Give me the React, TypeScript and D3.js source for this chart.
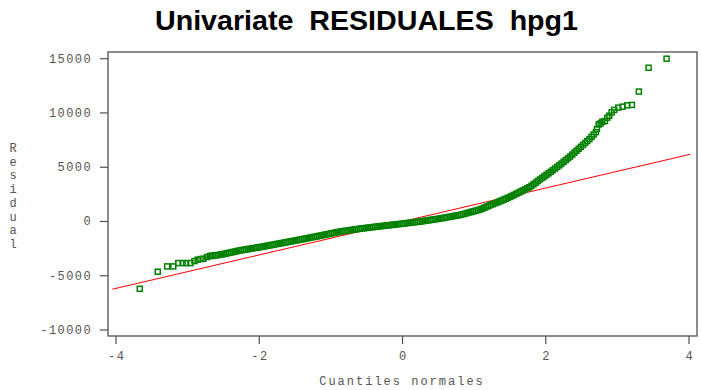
import React from "react";
import * as d3 from "d3";

const W = 701;
const H = 390;

const title = "Univariate  RESIDUALES  hpg1";
const xTicks = [-4, -2, 0, 2, 4];
const yTicks = [-10000, -5000, 0, 5000, 10000, 15000];
const xLabel = "Cuantiles normales";
const yLabel = "Residual";

// reference line (mean 0, sd ~1541)
const refIntercept = 0;
const refSlope = 1541;
const refRange = [-4.05, 4.02];

// lower tail [normal quantile, residual]
const lowTail: [number, number][] = [
  [-3.668, -6204], [-3.417, -4630], [-3.286, -4139], [-3.2, -4139],
  [-3.13, -3833], [-3.07, -3833], [-3.02, -3833], [-2.96, -3833],
  [-2.905, -3648], [-2.86, -3519], [-2.82, -3463], [-2.78, -3435],
  [-2.73, -3278], [-2.69, -3185],
];

// dense body of the plot
const body: [number, number][] = [
  [-2.67, -3173], [-2.64, -3146], [-2.61, -3120], [-2.58, -3093], [-2.55, -3067],
  [-2.52, -3030], [-2.49, -2987], [-2.46, -2944], [-2.43, -2902], [-2.4, -2859],
  [-2.37, -2816], [-2.34, -2773], [-2.31, -2730], [-2.28, -2687], [-2.25, -2647],
  [-2.22, -2614], [-2.19, -2582], [-2.16, -2549], [-2.13, -2516], [-2.1, -2483],
  [-2.07, -2450], [-2.04, -2418], [-2.01, -2385], [-1.98, -2352], [-1.95, -2315],
  [-1.92, -2278], [-1.89, -2241], [-1.86, -2204], [-1.83, -2167], [-1.8, -2130],
  [-1.77, -2093], [-1.74, -2056], [-1.71, -2019], [-1.68, -1982], [-1.65, -1945],
  [-1.62, -1908], [-1.59, -1872], [-1.56, -1835], [-1.53, -1798], [-1.5, -1761],
  [-1.47, -1725], [-1.44, -1688], [-1.41, -1650], [-1.38, -1610], [-1.35, -1571],
  [-1.32, -1532], [-1.29, -1492], [-1.26, -1453], [-1.23, -1413], [-1.2, -1374],
  [-1.17, -1334], [-1.14, -1295], [-1.11, -1255], [-1.08, -1215], [-1.05, -1175],
  [-1.02, -1136], [-0.99, -1096], [-0.96, -1056], [-0.93, -1016], [-0.9, -976],
  [-0.87, -937], [-0.84, -906], [-0.81, -877], [-0.78, -848], [-0.75, -819],
  [-0.72, -790], [-0.69, -761], [-0.66, -732], [-0.63, -703], [-0.6, -673],
  [-0.57, -647], [-0.54, -623], [-0.51, -599], [-0.48, -575], [-0.45, -550],
  [-0.42, -526], [-0.39, -502], [-0.36, -478], [-0.33, -454], [-0.3, -430],
  [-0.27, -407], [-0.24, -384], [-0.21, -361], [-0.18, -338], [-0.15, -315],
  [-0.12, -292], [-0.09, -269], [-0.06, -247], [-0.03, -224], [0, -200],
  [0.03, -176], [0.06, -152], [0.09, -128], [0.12, -104], [0.15, -80],
  [0.18, -56], [0.21, -33], [0.24, -9], [0.27, 19], [0.3, 49],
  [0.33, 79], [0.36, 109], [0.39, 138], [0.42, 168], [0.45, 198],
  [0.48, 228], [0.51, 258], [0.54, 290], [0.57, 326], [0.6, 361],
  [0.63, 397], [0.66, 433], [0.69, 468], [0.72, 504], [0.75, 540],
  [0.78, 576], [0.81, 612], [0.84, 666], [0.87, 720], [0.9, 773],
  [0.93, 827], [0.96, 881], [0.99, 935], [1.02, 989], [1.05, 1043],
  [1.08, 1097], [1.11, 1174], [1.14, 1260], [1.17, 1346], [1.2, 1432],
  [1.23, 1517], [1.26, 1596], [1.29, 1676], [1.32, 1755], [1.35, 1835],
  [1.38, 1917], [1.41, 2003], [1.44, 2089], [1.47, 2175], [1.5, 2261],
  [1.53, 2357], [1.56, 2457], [1.59, 2556], [1.62, 2655], [1.65, 2754],
  [1.68, 2854], [1.71, 2954], [1.74, 3054], [1.77, 3154], [1.8, 3279],
  [1.83, 3428], [1.86, 3577], [1.89, 3726], [1.92, 3875], [1.95, 4017],
  [1.98, 4157], [2.01, 4297], [2.04, 4438], [2.07, 4580], [2.1, 4730],
  [2.13, 4880], [2.16, 5030], [2.19, 5180], [2.22, 5336], [2.25, 5498],
  [2.28, 5660], [2.31, 5822], [2.34, 5984], [2.37, 6161], [2.4, 6339],
  [2.43, 6518], [2.46, 6696], [2.49, 6875], [2.52, 7055], [2.55, 7235],
  [2.58, 7415], [2.61, 7595], [2.64, 7798], [2.67, 8016], [2.7, 8234],
];

// upper tail
const highTail: [number, number][] = [
  [2.715, 8519], [2.74, 8944], [2.766, 9037], [2.79, 9194], [2.827, 9259],
  [2.86, 9565], [2.887, 9750], [2.92, 10056], [2.957, 10278], [3.013, 10490],
  [3.073, 10583], [3.138, 10704], [3.203, 10741], [3.3, 11972], [3.436, 14167],
  [3.687, 15000],
];

const GREEN = "#008000";
const AXIS = "#505050";
const TXT = "#555";
const MONO = "'Liberation Mono', 'DejaVu Sans Mono', monospace";

export default function App() {
  const frame = { left: 108, right: 697, top: 52, bottom: 336 };
  const x = d3.scaleLinear().domain([-4, 4]).range([116, 689]);
  const y = d3.scaleLinear().domain([-10000, 15000]).range([330, 58.7]);

  const pts = [...lowTail, ...body, ...highTail];
  const refLine = d3
    .line<number>()
    .x((q) => x(q))
    .y((q) => y(refIntercept + refSlope * q));

  return (
    <svg width={W} height={H} style={{ position: "absolute", left: 0, top: 0, background: "#fff" }}>
      <text
        x={155}
        y={30}
        fontFamily="'Liberation Sans', Arial, sans-serif"
        fontWeight="bold"
        fontSize={28}
        textLength={423}
        lengthAdjust="spacingAndGlyphs"
        fill="#000"
        style={{ whiteSpace: "pre" }}
      >
        {title}
      </text>

      <rect
        x={frame.left}
        y={frame.top}
        width={frame.right - frame.left}
        height={frame.bottom - frame.top}
        fill="none"
        stroke={AXIS}
        strokeWidth={1.3}
      />

      {yTicks.map((t) => (
        <g key={t}>
          <line x1={100} x2={frame.left} y1={y(t)} y2={y(t)} stroke={AXIS} strokeWidth={1.2} />
          <text
            x={92}
            y={y(t) + 4}
            textAnchor="end"
            fontFamily={MONO}
            fontSize={12}
            letterSpacing={1.4}
            fill={TXT}
          >
            {t}
          </text>
        </g>
      ))}

      {xTicks.map((t) => (
        <g key={t}>
          <line x1={x(t)} x2={x(t)} y1={frame.bottom} y2={frame.bottom + 8} stroke={AXIS} strokeWidth={1.2} />
          <text
            x={x(t) + 0.7}
            y={360}
            textAnchor="middle"
            fontFamily={MONO}
            fontSize={12}
            letterSpacing={1.4}
            fill={TXT}
          >
            {t}
          </text>
        </g>
      ))}

      <text
        x={402}
        y={385}
        textAnchor="middle"
        fontFamily={MONO}
        fontSize={12}
        letterSpacing={2}
        fill={TXT}
      >
        {xLabel}
      </text>

      {yLabel.split("").map((c, i) => (
        <text
          key={i}
          x={13}
          y={152 + i * 13.7}
          textAnchor="middle"
          fontFamily={MONO}
          fontSize={12}
          fill={TXT}
        >
          {c}
        </text>
      ))}

      <path d={refLine(refRange) || ""} stroke="#ff0000" strokeWidth={1} fill="none" />

      {pts.map(([q, v], i) => (
        <rect
          key={i}
          x={x(q) - 2.5}
          y={y(v) - 2.5}
          width={5}
          height={5}
          fill="none"
          stroke={GREEN}
          strokeWidth={1.5}
        />
      ))}
    </svg>
  );
}
